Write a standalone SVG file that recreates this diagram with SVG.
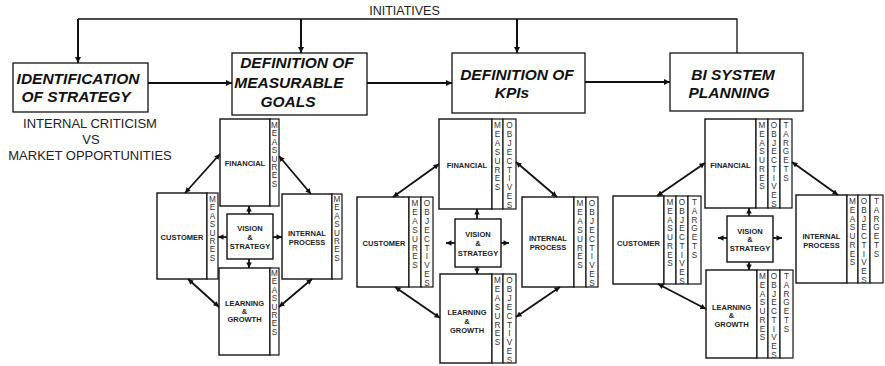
<svg xmlns="http://www.w3.org/2000/svg" width="885" height="366" viewBox="0 0 885 366">
  <style>
    .bg { fill: #ffffff; }
    .stage { fill: #ffffff; stroke: #111; stroke-width: 1.3; }
    .stage-t { font-family: "Liberation Sans", Arial, sans-serif; font-weight: bold; font-style: italic; font-size: 15.5px; fill: #111; }
    .note { font-family: "Liberation Sans", Arial, sans-serif; font-size: 13px; fill: #222; text-anchor: middle; }
    .box { fill: #ffffff; stroke: #111; stroke-width: 1.4; }
    .col { fill: #ffffff; stroke: #111; stroke-width: 1.2; }
    .lbl { font-family: "Liberation Sans", Arial, sans-serif; font-weight: bold; font-size: 7.5px; fill: #222; text-anchor: middle; }
    .vl { font-family: "Liberation Sans", Arial, sans-serif; font-size: 8.2px; fill: #333; text-anchor: middle; }
    .flow { fill: none; stroke: #111; stroke-width: 2; }
    .feed { fill: none; stroke: #111; stroke-width: 1.3; }
    .link { fill: none; stroke: #111; stroke-width: 1.8; }
  </style>
  <defs>
    <marker id="head" viewBox="0 0 10 10" refX="10" refY="5" markerWidth="7" markerHeight="6" markerUnits="userSpaceOnUse" orient="auto-start-reverse">
      <path d="M0,0 L10,5 L0,10 z" fill="#111"/>
    </marker>
    <marker id="tip" viewBox="0 0 10 10" refX="10" refY="5" markerWidth="6" markerHeight="5.5" markerUnits="userSpaceOnUse" orient="auto-start-reverse">
      <path d="M0,0 L10,5 L0,10 z" fill="#111"/>
    </marker>
  </defs>
  <rect class="bg" x="0" y="0" width="885" height="366"/>

  <!-- feedback loop of initiatives -->
  <text x="404.5" y="14.5" font-family="'Liberation Sans', Arial, sans-serif" font-size="12.5" fill="#222" text-anchor="middle">INITIATIVES</text>

  <!-- stage boxes -->
  <g id="stage-strategy">
    <rect class="stage" x="13" y="63" width="135" height="49"/>
    <text class="stage-t" x="78" y="84" text-anchor="middle">IDENTIFICATION</text>
    <text class="stage-t" x="76" y="102" text-anchor="middle">OF STRATEGY</text>
  </g>
  <g id="stage-goals">
    <rect class="stage" x="232" y="53" width="135" height="62"/>
    <text class="stage-t" x="297" y="68" text-anchor="middle">DEFINITION OF</text>
    <text class="stage-t" x="289" y="88" text-anchor="middle">MEASURABLE</text>
    <text class="stage-t" x="288" y="107" text-anchor="middle">GOALS</text>
  </g>
  <g id="stage-kpis">
    <rect class="stage" x="452" y="53" width="133" height="60"/>
    <text class="stage-t" x="517" y="80" text-anchor="middle">DEFINITION OF</text>
    <text class="stage-t" x="512" y="98" text-anchor="middle">KPIs</text>
  </g>
  <g id="stage-bi">
    <rect class="stage" x="670" y="53" width="133" height="58"/>
    <text class="stage-t" x="733" y="80" text-anchor="middle">BI SYSTEM</text>
    <text class="stage-t" x="729" y="98" text-anchor="middle">PLANNING</text>
  </g>

  <g id="strategy-note">
    <text class="note" x="90" y="127.5">INTERNAL CRITICISM</text>
    <text class="note" x="91" y="143.5">VS</text>
    <text class="note" x="90" y="159.5">MARKET OPPORTUNITIES</text>
  </g>

  <!-- scorecard 1: measures -->
  <g id="sc1-financial">
    <rect class="box" x="220" y="119" width="50" height="87"/>
    <rect class="col" x="270" y="119" width="9" height="87"/>
    <text class="lbl" x="245" y="165.7">FINANCIAL</text>
    <text class="vl" x="274.5 274.5 274.5 274.5 274.5 274.5 274.5 274.5" y="128 136.4 144.8 153.2 161.6 170 178.4 186.8">MEASURES</text>
  </g>
  <g id="sc1-customer">
    <rect class="box" x="157" y="193" width="50" height="86"/>
    <rect class="col" x="207" y="193" width="11" height="86"/>
    <text class="lbl" x="182" y="239.7">CUSTOMER</text>
    <text class="vl" x="212.5 212.5 212.5 212.5 212.5 212.5 212.5 212.5" y="202 210.4 218.8 227.2 235.6 244 252.4 260.8">MEASURES</text>
  </g>
  <g id="sc1-internal">
    <rect class="box" x="282" y="194" width="50" height="85"/>
    <rect class="col" x="332" y="194" width="10" height="85"/>
    <text class="lbl" x="307" y="235.7">INTERNAL</text>
    <text class="lbl" x="307" y="244.7">PROCESS</text>
    <text class="vl" x="337 337 337 337 337 337 337 337" y="202 210.4 218.8 227.2 235.6 244 252.4 260.8">MEASURES</text>
  </g>
  <g id="sc1-learning">
    <rect class="box" x="219" y="268" width="51" height="87"/>
    <rect class="col" x="270" y="268" width="9" height="87"/>
    <text class="lbl" x="244.5" y="305.7">LEARNING</text>
    <text class="lbl" x="244.5" y="313.7">&amp;</text>
    <text class="lbl" x="244.5" y="321.7">GROWTH</text>
    <text class="vl" x="274.5 274.5 274.5 274.5 274.5 274.5 274.5 274.5" y="276 284.4 292.8 301.2 309.6 318 326.4 334.8">MEASURES</text>
  </g>
  <g id="sc1-vision">
    <rect class="box" x="227" y="214" width="46" height="45"/>
    <text class="lbl" x="250" y="230.7">VISION</text>
    <text class="lbl" x="250" y="239.7">&amp;</text>
    <text class="lbl" x="250" y="248.7">STRATEGY</text>
  </g>

  <!-- scorecard 2: measures and objectives -->
  <g id="sc2-financial">
    <rect class="box" x="439" y="119" width="53" height="90"/>
    <rect class="col" x="492" y="119" width="11" height="90"/>
    <rect class="col" x="503" y="119" width="13" height="90"/>
    <text class="lbl" x="467" y="167.7">FINANCIAL</text>
    <text class="vl" x="497.5 497.5 497.5 497.5 497.5 497.5 497.5 497.5" y="128 136.9 145.8 154.7 163.6 172.5 181.4 190.3">MEASURES</text>
    <text class="vl" x="509.5 509.5 509.5 509.5 509.5 509.5 509.5 509.5 509.5 509.5" y="128 136.9 145.8 154.7 163.6 172.5 181.4 190.3 199.2 208.1">OBJECTIVES</text>
  </g>
  <g id="sc2-customer">
    <rect class="box" x="357" y="197" width="52" height="90"/>
    <rect class="col" x="409" y="197" width="12" height="90"/>
    <rect class="col" x="421" y="197" width="12" height="90"/>
    <text class="lbl" x="384" y="245.7">CUSTOMER</text>
    <text class="vl" x="415 415 415 415 415 415 415 415" y="206 214.9 223.8 232.7 241.6 250.5 259.4 268.3">MEASURES</text>
    <text class="vl" x="427 427 427 427 427 427 427 427 427 427" y="206 214.9 223.8 232.7 241.6 250.5 259.4 268.3 277.2 286.1">OBJECTIVES</text>
  </g>
  <g id="sc2-internal">
    <rect class="box" x="522" y="197" width="52" height="90"/>
    <rect class="col" x="574" y="197" width="12" height="90"/>
    <rect class="col" x="586" y="197" width="12" height="90"/>
    <text class="lbl" x="548" y="240.7">INTERNAL</text>
    <text class="lbl" x="548" y="249.7">PROCESS</text>
    <text class="vl" x="580 580 580 580 580 580 580 580" y="206 214.9 223.8 232.7 241.6 250.5 259.4 268.3">MEASURES</text>
    <text class="vl" x="592 592 592 592 592 592 592 592 592 592" y="206 214.9 223.8 232.7 241.6 250.5 259.4 268.3 277.2 286.1">OBJECTIVES</text>
  </g>
  <g id="sc2-learning">
    <rect class="box" x="440" y="274" width="52" height="89"/>
    <rect class="col" x="492" y="274" width="11" height="89"/>
    <rect class="col" x="503" y="274" width="13" height="89"/>
    <text class="lbl" x="467" y="314.7">LEARNING</text>
    <text class="lbl" x="467" y="323.7">&amp;</text>
    <text class="lbl" x="467" y="332.7">GROWTH</text>
    <text class="vl" x="497.5 497.5 497.5 497.5 497.5 497.5 497.5 497.5" y="283 291.9 300.8 309.7 318.6 327.5 336.4 345.3">MEASURES</text>
    <text class="vl" x="509.5 509.5 509.5 509.5 509.5 509.5 509.5 509.5 509.5 509.5" y="283 291.9 300.8 309.7 318.6 327.5 336.4 345.3 354.2 363.1">OBJECTIVES</text>
  </g>
  <g id="sc2-vision">
    <rect class="box" x="455" y="219" width="46" height="48"/>
    <text class="lbl" x="478" y="236.7">VISION</text>
    <text class="lbl" x="478" y="245.7">&amp;</text>
    <text class="lbl" x="478" y="255.7">STRATEGY</text>
  </g>

  <!-- scorecard 3: measures, objectives and targets -->
  <g id="sc3-financial">
    <rect class="box" x="705" y="119" width="51" height="89"/>
    <rect class="col" x="756" y="119" width="12" height="89"/>
    <rect class="col" x="768" y="119" width="12" height="89"/>
    <rect class="col" x="780" y="119" width="12" height="89"/>
    <text class="lbl" x="730.5" y="167.7">FINANCIAL</text>
    <text class="vl" x="762 762 762 762 762 762 762 762" y="128 136.75 145.5 154.25 163 171.75 180.5 189.25">MEASURES</text>
    <text class="vl" x="774 774 774 774 774 774 774 774 774 774" y="128 136.75 145.5 154.25 163 171.75 180.5 189.25 198 206.75">OBJECTIVES</text>
    <text class="vl" x="786 786 786 786 786 786 786" y="128 136.75 145.5 154.25 163 171.75 180.5">TARGETS</text>
  </g>
  <g id="sc3-customer">
    <rect class="box" x="613" y="196" width="51" height="88"/>
    <rect class="col" x="664" y="196" width="12" height="88"/>
    <rect class="col" x="676" y="196" width="12" height="88"/>
    <rect class="col" x="688" y="196" width="13" height="88"/>
    <text class="lbl" x="638.5" y="245.7">CUSTOMER</text>
    <text class="vl" x="670 670 670 670 670 670 670 670" y="205 213.75 222.5 231.25 240 248.75 257.5 266.25">MEASURES</text>
    <text class="vl" x="682 682 682 682 682 682 682 682 682 682" y="205 213.75 222.5 231.25 240 248.75 257.5 266.25 275 283.75">OBJECTIVES</text>
    <text class="vl" x="694.5 694.5 694.5 694.5 694.5 694.5 694.5" y="205 213.75 222.5 231.25 240 248.75 257.5">TARGETS</text>
  </g>
  <g id="sc3-internal">
    <rect class="box" x="796" y="195" width="51" height="88"/>
    <rect class="col" x="847" y="195" width="11" height="88"/>
    <rect class="col" x="858" y="195" width="12" height="88"/>
    <rect class="col" x="870" y="195" width="13" height="88"/>
    <text class="lbl" x="821.5" y="238.7">INTERNAL</text>
    <text class="lbl" x="821.5" y="247.7">PROCESS</text>
    <text class="vl" x="852.5 852.5 852.5 852.5 852.5 852.5 852.5 852.5" y="204 212.75 221.5 230.25 239 247.75 256.5 265.25">MEASURES</text>
    <text class="vl" x="864 864 864 864 864 864 864 864 864 864" y="204 212.75 221.5 230.25 239 247.75 256.5 265.25 274 282.75">OBJECTIVES</text>
    <text class="vl" x="876.5 876.5 876.5 876.5 876.5 876.5 876.5" y="204 212.75 221.5 230.25 239 247.75 256.5">TARGETS</text>
  </g>
  <g id="sc3-learning">
    <rect class="box" x="706" y="270" width="51" height="88"/>
    <rect class="col" x="757" y="270" width="11" height="88"/>
    <rect class="col" x="768" y="270" width="12" height="88"/>
    <rect class="col" x="780" y="270" width="13" height="88"/>
    <text class="lbl" x="731.5" y="309.7">LEARNING</text>
    <text class="lbl" x="731.5" y="317.7">&amp;</text>
    <text class="lbl" x="731.5" y="326.7">GROWTH</text>
    <text class="vl" x="762.5 762.5 762.5 762.5 762.5 762.5 762.5 762.5" y="279 287.75 296.5 305.25 314 322.75 331.5 340.25">MEASURES</text>
    <text class="vl" x="774 774 774 774 774 774 774 774 774 774" y="279 287.75 296.5 305.25 314 322.75 331.5 340.25 349 357.75">OBJECTIVES</text>
    <text class="vl" x="786.5 786.5 786.5 786.5 786.5 786.5 786.5" y="279 287.75 296.5 305.25 314 322.75 331.5">TARGETS</text>
  </g>
  <g id="sc3-vision">
    <rect class="box" x="727" y="216" width="46" height="46"/>
    <text class="lbl" x="750" y="233.7">VISION</text>
    <text class="lbl" x="750" y="241.7">&amp;</text>
    <text class="lbl" x="750" y="250.7">STRATEGY</text>
  </g>

  <!-- connectors -->
  <g id="connectors">
    <!-- initiatives loop -->
    <path class="feed" d="M737,53 V19 H78"/>
    <path class="flow" d="M78,19 V63" marker-end="url(#head)"/>
    <path class="flow" d="M301,19 V53" marker-end="url(#head)"/>
    <path class="flow" d="M517,19 V53" marker-end="url(#head)"/>
    <!-- stage sequence -->
    <path class="flow" d="M148,83 H232" marker-end="url(#head)"/>
    <path class="flow" d="M367,83 H452" marker-end="url(#head)"/>
    <path class="flow" d="M585,82 H670" marker-end="url(#head)"/>

    <!-- scorecard 1 -->
    <path class="link" d="M249,214 V206" marker-end="url(#tip)"/>
    <path class="link" d="M249,259 V268" marker-end="url(#tip)"/>
    <path class="link" d="M227,237 H218" marker-end="url(#tip)"/>
    <path class="link" d="M273,237 H282" marker-end="url(#tip)"/>
    <path class="link" d="M185,193 L220,154" marker-start="url(#tip)" marker-end="url(#tip)"/>
    <path class="link" d="M279,156 L311,194" marker-start="url(#tip)" marker-end="url(#tip)"/>
    <path class="link" d="M188,279 L219,307" marker-start="url(#tip)" marker-end="url(#tip)"/>
    <path class="link" d="M312,279 L279,307" marker-start="url(#tip)" marker-end="url(#tip)"/>

    <!-- scorecard 2 -->
    <path class="link" d="M477,219 V209" marker-end="url(#tip)"/>
    <path class="link" d="M477,267 V274" marker-end="url(#tip)"/>
    <path class="link" d="M455,243 H446" marker-end="url(#tip)"/>
    <path class="link" d="M501,243 H509" marker-end="url(#tip)"/>
    <path class="link" d="M393,197 L439,164" marker-start="url(#tip)" marker-end="url(#tip)"/>
    <path class="link" d="M516,162 L557,197" marker-start="url(#tip)" marker-end="url(#tip)"/>
    <path class="link" d="M395,287 L440,318" marker-start="url(#tip)" marker-end="url(#tip)"/>
    <path class="link" d="M560,287 L516,317" marker-start="url(#tip)" marker-end="url(#tip)"/>

    <!-- scorecard 3 -->
    <path class="link" d="M749,216 V208" marker-end="url(#tip)"/>
    <path class="link" d="M749,262 V270" marker-end="url(#tip)"/>
    <path class="link" d="M727,238 H718" marker-end="url(#tip)"/>
    <path class="link" d="M773,238 H782" marker-end="url(#tip)"/>
    <path class="link" d="M657,196 L705,163" marker-start="url(#tip)" marker-end="url(#tip)"/>
    <path class="link" d="M792,162 L838,195" marker-start="url(#tip)" marker-end="url(#tip)"/>
    <path class="link" d="M658,284 L706,309" marker-start="url(#tip)" marker-end="url(#tip)"/>
  </g>
</svg>
